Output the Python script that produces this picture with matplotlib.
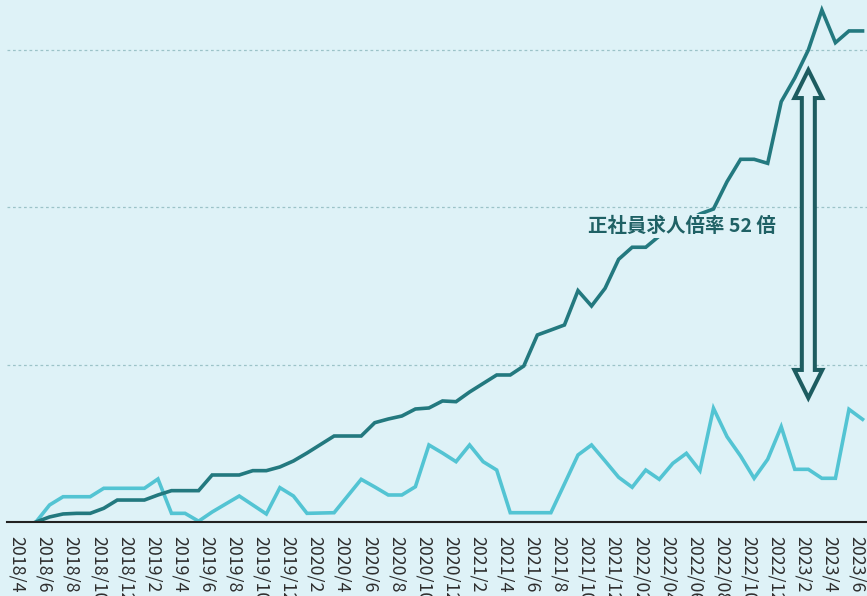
import numpy as np
import matplotlib
matplotlib.use("Agg")
import matplotlib.pyplot as plt
from matplotlib.patches import Polygon

# ---- data (monthly, 2018/5 .. 2023/6) ----
regular_ratio = [0.0, 0.64, 1.02, 1.10, 1.10, 1.74, 2.79, 2.79, 2.79, 3.43,
                 3.98, 3.98, 3.98, 5.97, 5.97, 5.97, 6.52, 6.52, 6.99, 7.75,
                 8.76, 9.84, 10.92, 10.92, 10.92, 12.61, 13.08, 13.46, 14.35, 14.48,
                 15.37, 15.28, 16.51, 17.59, 18.67, 18.67, 19.81, 23.75, 24.38, 25.02,
                 29.38, 27.43, 29.68, 33.36, 34.89, 34.89, 36.32, 37.21, 38.10, 39.12,
                 39.75, 43.22, 46.06, 46.06, 45.55, 53.38, 56.39, 59.94, 65.02, 60.87,
                 62.36, 62.36]
overall_ratio = [0.0, 2.16, 3.21, 3.21, 3.21, 4.28, 4.28, 4.28, 4.28, 5.46,
                 1.10, 1.10, 0.1, 1.27, 2.29, 3.30, 2.16, 1.02, 4.36, 3.30,
                 1.10, 1.14, 1.18, 3.30, 5.42, 4.45, 3.43, 3.43, 4.48, 9.78,
                 8.76, 7.66, 9.78, 7.66, 6.60, 1.18, 1.18, 1.18, 1.18, 4.83,
                 8.51, 9.78, 7.75, 5.68, 4.41, 6.60, 5.42, 7.45, 8.72, 6.52,
                 14.44, 10.83, 8.38, 5.55, 7.96, 12.10, 6.69, 6.69, 5.55, 5.55,
                 14.31, 13.04]
tick_labels = ["2018/4", "2018/6", "2018/8", "2018/10", "2018/12", "2019/2",
               "2019/4", "2019/6", "2019/8", "2019/10", "2019/12", "2020/2",
               "2020/4", "2020/6", "2020/8", "2020/10", "2020/12", "2021/2",
               "2021/4", "2021/6", "2021/8", "2021/10", "2021/12", "2022/02",
               "2022/04", "2022/06", "2022/08", "2022/10", "2022/12", "2023/2",
               "2023/4", "2023/6"]
annotation_text = "正社員求人倍率 52 倍"
grid_values = [20, 40, 60]

# ---- style ----
BG = "#def2f7"
DARK = "#23797f"
LIGHT = "#53c4d3"
ARROW = "#1d5c60"
TEXTC = "#1f6165"

plt.rcParams["font.family"] = ["Noto Sans CJK JP", "DejaVu Sans"]

fig = plt.figure(figsize=(8.67, 5.96), dpi=100)
fig.patch.set_facecolor(BG)
ax = fig.add_axes([7 / 867, 74 / 596, 860 / 867, 522 / 596])
ax.set_facecolor(BG)

x = np.arange(len(regular_ratio))
ax.plot(x, overall_ratio, color=LIGHT, lw=2.6, solid_joinstyle="miter", zorder=3)
ax.plot(x, regular_ratio, color=DARK, lw=2.6, solid_joinstyle="miter", zorder=4)

for g in grid_values:
    ax.axhline(g, color="#9cc3c8", lw=0.9, ls=(0, (2.2, 2.2)), zorder=1)

ax.set_xlim(-2.14, 61.33)
ax.set_ylim(0, 66.29)

for s in ["top", "right", "left"]:
    ax.spines[s].set_visible(False)
ax.spines["bottom"].set_color("#222222")
ax.spines["bottom"].set_linewidth(1.5)
ax.spines["bottom"].set_zorder(5)

tick_pos = np.arange(len(tick_labels)) * 2 - 1 - 0.4
ax.set_xticks(tick_pos)
ax.set_xticklabels(tick_labels, rotation=-90, fontsize=12.8, color="#2e2e2e")
ax.tick_params(axis="x", length=0, pad=10)
ax.set_yticks([])

# hollow double arrow at 2023/2
ax_x = 57
top, bot = 57.4, 15.75
hl, hw, sw = 3.56, 1.03, 0.48
verts = [(ax_x, top), (ax_x + hw, top - hl), (ax_x + sw, top - hl),
         (ax_x + sw, bot + hl), (ax_x + hw, bot + hl), (ax_x, bot),
         (ax_x - hw, bot + hl), (ax_x - sw, bot + hl), (ax_x - sw, top - hl),
         (ax_x - hw, top - hl)]
ax.add_patch(Polygon(verts, closed=True, facecolor=BG, edgecolor=ARROW,
                     lw=2.9, joinstyle="miter", zorder=6))

ax.text(47.7, 37.6, annotation_text, ha="center", va="center", fontsize=14,
        fontweight="bold", color=TEXTC, zorder=7,
        bbox=dict(boxstyle="square,pad=0.12", fc=BG, ec="none"))

fig.savefig("out.png", dpi=100, facecolor=BG)
